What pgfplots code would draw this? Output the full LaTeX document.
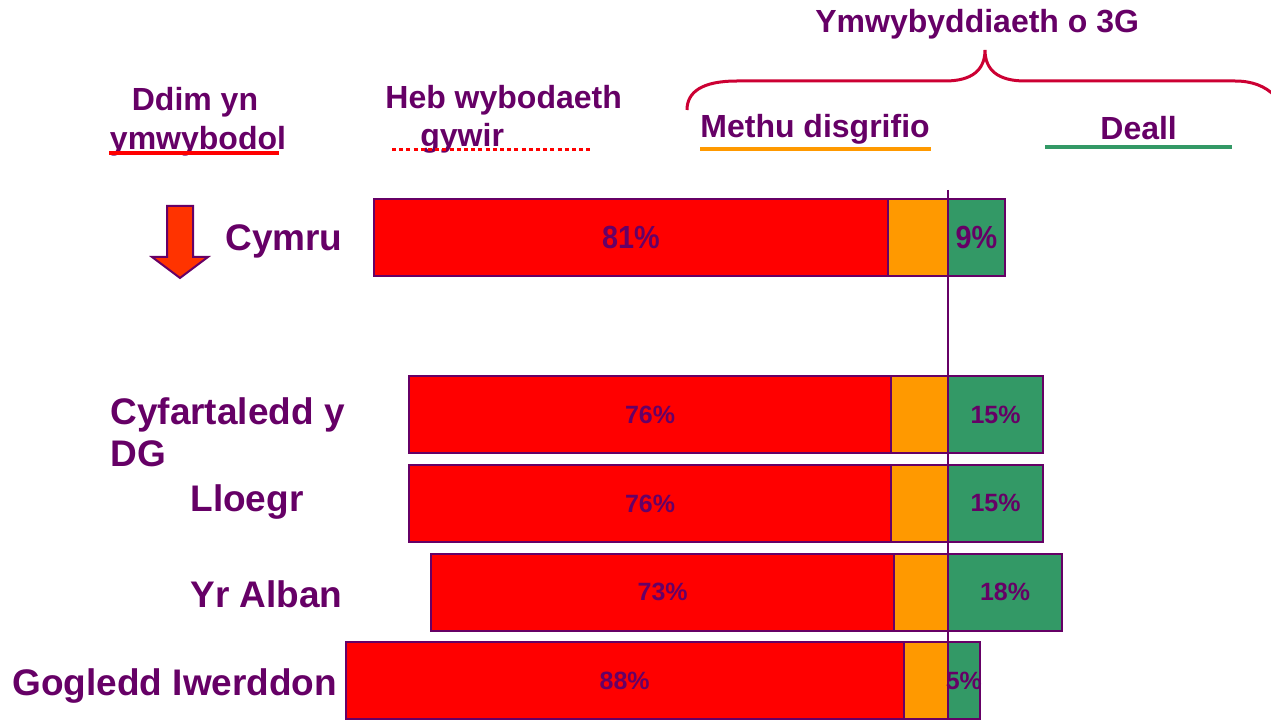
\documentclass[border=0pt]{standalone}
\usepackage{fontspec}
\setmainfont{Liberation Sans}
\usepackage{pgfplots}
\usepackage{pgfplotstable}
\pgfplotsset{compat=1.18}
\definecolor{purp}{RGB}{102,0,102}
\definecolor{barred}{RGB}{255,0,0}
\definecolor{barorange}{RGB}{255,153,0}
\definecolor{bargreen}{RGB}{51,153,102}
\definecolor{bracered}{RGB}{204,0,51}
\definecolor{arrowred}{RGB}{255,51,0}

% y = row position, r = not aware/no correct knowledge, o = cannot describe, g = understand
\pgfplotstableread{
y r o g
0 81 9.5 9
}\cymru
\pgfplotstableread{
y r o g
-2 76 9 15
-3 76 9 15
-4 73 8.5 18
-5 88 7 5
}\rest

\begin{document}
\begin{tikzpicture}
\begin{axis}[
  at={(0,0)}, anchor=south west,
  scale only axis, width=635.5pt, height=359.5pt,
  xmin=-149.53, xmax=50.95, ymin=-5.428, ymax=2.669,
  hide axis, clip=false,
  bar width=38.5pt,
  /pgf/number format/assume math mode=true,
]
% red (total left) bars, then orange on top, then green
\addplot[xbar, bar shift=0pt, fill=barred, draw=purp, line width=1pt]
  table[x expr=-\thisrow{r}-\thisrow{o}, y=y] {\cymru};
\addplot[xbar, bar shift=0pt, fill=barred, draw=purp, line width=1pt]
  table[x expr=-\thisrow{r}-\thisrow{o}, y=y] {\rest};
\addplot[xbar, bar shift=0pt, fill=barorange, draw=purp, line width=1pt]
  table[x expr=-\thisrow{o}, y=y] {\cymru};
\addplot[xbar, bar shift=0pt, fill=barorange, draw=purp, line width=1pt]
  table[x expr=-\thisrow{o}, y=y] {\rest};
\addplot[xbar, bar shift=0pt, fill=bargreen, draw=purp, line width=1pt]
  table[x=g, y=y] {\cymru};
\addplot[xbar, bar shift=0pt, fill=bargreen, draw=purp, line width=1pt]
  table[x=g, y=y] {\rest};
% value labels
\addplot[draw=none, mark=none, point meta=\thisrow{r},
  nodes near coords={\scalebox{0.9}[1]{\pgfmathprintnumber{\pgfplotspointmeta}\%}},
  nodes near coords style={anchor=center, text=purp, font=\fontsize{16}{18}\selectfont\bfseries}]
  table[x expr=-\thisrow{o}-\thisrow{r}/2, y=y] {\cymru};
\addplot[draw=none, mark=none, point meta=\thisrow{g},
  nodes near coords={\scalebox{0.9}[1]{\pgfmathprintnumber{\pgfplotspointmeta}\%}},
  nodes near coords style={anchor=center, text=purp, font=\fontsize{16}{18}\selectfont\bfseries}]
  table[x expr=\thisrow{g}/2, y=y] {\cymru};
\addplot[draw=none, mark=none, point meta=\thisrow{r},
  nodes near coords={\pgfmathprintnumber{\pgfplotspointmeta}\%},
  nodes near coords style={anchor=center, text=purp, font=\fontsize{12.5}{14}\selectfont\bfseries}]
  table[x expr=-\thisrow{o}-\thisrow{r}/2, y=y] {\rest};
\addplot[draw=none, mark=none, point meta=\thisrow{g},
  nodes near coords={\pgfmathprintnumber{\pgfplotspointmeta}\%},
  nodes near coords style={anchor=center, text=purp, font=\fontsize{12.5}{14}\selectfont\bfseries}]
  table[x expr=\thisrow{g}/2, y=y] {\rest};
% zero line
\draw[purp, line width=1pt] (axis cs:0,0.53) -- (axis cs:0,-5.45);
\end{axis}

\begin{scope}[x=0.5pt, y=-0.5pt, yshift=359.5pt]
  \tikzset{lab/.style={inner sep=0pt, text=purp, font=\fontsize{18.5}{21}\selectfont\bfseries},
           hdr/.style={inner sep=0pt, text=purp, font=\fontsize{16}{19}\selectfont\bfseries}}
  % category labels
  \node[lab, anchor=base west] at (225,251) {Cymru};
  \node[lab, anchor=base west] at (110,425) {Cyfartaledd y};
  \node[lab, anchor=base west] at (110,467) {DG};
  \node[lab, anchor=base west] at (190,512) {Lloegr};
  \node[lab, anchor=base west] at (190,607) {Yr Alban};
  \node[lab, anchor=base west] at (12,695) {Gogledd Iwerddon};
  % arrow
  \draw[purp, line width=1pt, fill=arrowred]
    (167,206) -- (193,206) -- (193,257) -- (208,257) -- (180,278) -- (152,257) -- (167,257) -- cycle;
  % header texts
  \node[hdr, anchor=base] at (195,111) {Ddim yn};
  \node[hdr, anchor=base] at (198,150) {ymwybodol};
  \node[hdr, anchor=base west] at (385,109) {Heb wybodaeth};
  \node[hdr, anchor=base west] at (420,147) {gywir};
  \node[hdr, anchor=base west] at (815,33) {Ymwybyddiaeth o 3G};
  \node[hdr, anchor=base west] at (700,138) {Methu disgrifio};
  \node[hdr, anchor=base west] at (1100,140) {Deall};
  % underlines
  \draw[barred, line width=1.6pt] (109,153) -- (279,153);
  \draw[barred, line width=1.5pt, dash pattern=on 2pt off 1.6pt] (392,150) -- (593,150);
  \draw[barorange, line width=1.8pt] (700,149) -- (931,149);
  \draw[bargreen, line width=1.8pt] (1045,147) -- (1232,147);
  % brace
  \draw[bracered, line width=1.5pt]
    (687,110) .. controls (687,92) and (702,81) .. (737,81) -- (945,81)
    .. controls (972,81) and (985,70) .. (985,50)
    .. controls (985,70) and (998,81) .. (1025,81) -- (1235,81)
    .. controls (1252,81) and (1265,86) .. (1275,96);
\end{scope}
\pgfresetboundingbox
\path[use as bounding box] (0,0) rectangle (635.5pt,359.5pt);
\end{tikzpicture}
\end{document}
